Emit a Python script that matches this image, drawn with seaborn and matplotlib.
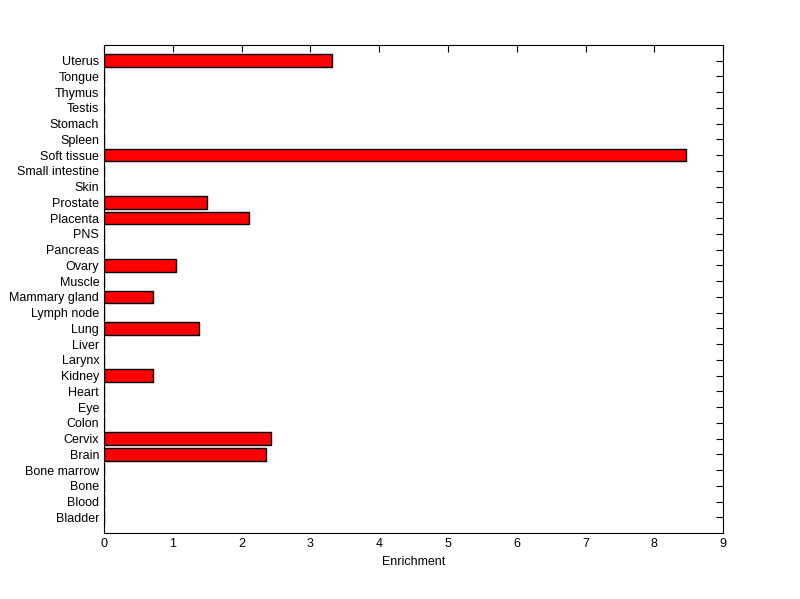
import pandas as pd
import matplotlib
matplotlib.use("Agg")
import matplotlib.pyplot as plt
import seaborn as sns

# tissues, top to bottom
tissues = ["Uterus", "Tongue", "Thymus", "Testis", "Stomach", "Spleen",
           "Soft tissue", "Small intestine", "Skin", "Prostate", "Placenta",
           "PNS", "Pancreas", "Ovary", "Muscle", "Mammary gland", "Lymph node",
           "Lung", "Liver", "Larynx", "Kidney", "Heart", "Eye", "Colon",
           "Cervix", "Brain", "Bone marrow", "Bone", "Blood", "Bladder"]
enrichment = [3.32, 0, 0, 0, 0, 0,
              8.46, 0, 0, 1.50, 2.11,
              0, 0, 1.05, 0, 0.71, 0,
              1.38, 0, 0, 0.71, 0, 0, 0,
              2.43, 2.36, 0, 0, 0, 0]

df = pd.DataFrame({"tissue": tissues, "enrichment": enrichment})

sns.set_style("white")
plt.rcParams["font.family"] = ["Liberation Sans", "DejaVu Sans"]
plt.rcParams["text.color"] = "black"
plt.rcParams["axes.labelcolor"] = "black"

fig = plt.figure(figsize=(8, 5.99), dpi=100)
ax = fig.add_axes([0.13, 0.11, 0.774, 0.815])

sns.barplot(data=df, x="enrichment", y="tissue", order=tissues,
            color="red", saturation=1, edgecolor="black", linewidth=1.0,
            width=0.8, ax=ax)

ax.set_xlim(0, 9)
ax.set_ylim(30, -1)
ax.set_xticks(range(10))
ax.set_xlabel("Enrichment", fontsize=9, color="black")
ax.set_ylabel("")
ax.tick_params(direction="in", length=5, width=0.8, labelsize=9,
               top=True, right=True, colors="black")
for s in ax.spines.values():
    s.set_visible(True)
    s.set_color("black")
    s.set_linewidth(0.8)

fig.savefig("out.png", dpi=100, facecolor="white")
